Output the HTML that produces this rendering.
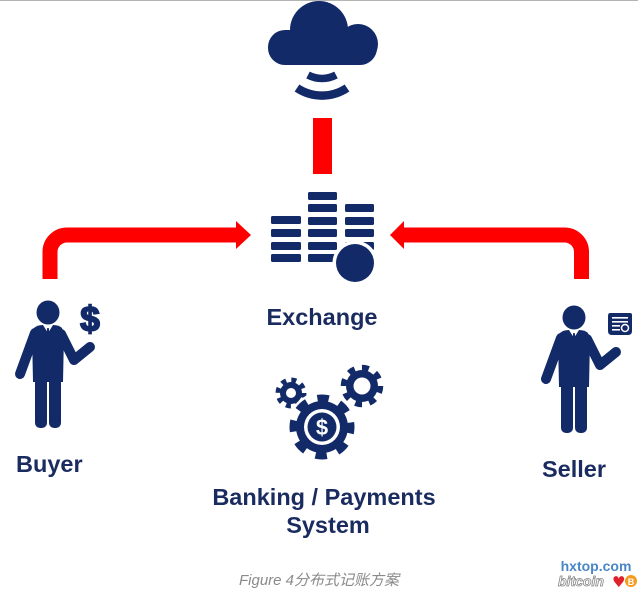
<!DOCTYPE html>
<html>
<head>
<meta charset="utf-8">
<style>
  html,body{margin:0;padding:0;background:#fff;}
  body{width:638px;height:590px;overflow:hidden;}
  svg{display:block;}
  .lbl{font-family:"Liberation Sans",Arial,sans-serif;font-weight:bold;fill:#1a2b5f;font-size:23.5px;}
</style>
</head>
<body>
<svg width="638" height="590" viewBox="0 0 638 590" xmlns="http://www.w3.org/2000/svg">
  <rect x="0" y="0" width="638" height="1" fill="#b4b4b4"/>

  <!-- Cloud -->
  <g fill="#132a68">
    <circle cx="319" cy="30" r="29"/>
    <rect x="268" y="30" width="109" height="35" rx="17"/>
    <circle cx="358" cy="44" r="20"/>
  </g>
  <!-- wifi arcs -->
  <g fill="none" stroke="#132a68" stroke-linecap="butt">
    <path d="M308,75 A30,30 0 0 0 336,75" stroke-width="7.5"/>
    <path d="M297,88 A45,45 0 0 0 347,88" stroke-width="8.5"/>
  </g>

  <!-- red vertical bar -->
  <rect x="313" y="118" width="19" height="56" fill="#ff0000"/>

  <!-- Left arrow -->
  <path d="M50,279 V252 A17,17 0 0 1 67,235 H238" fill="none" stroke="#ff0000" stroke-width="15"/>
  <polygon points="236,221 251,235 236,249" fill="#ff0000"/>
  <!-- Right arrow -->
  <path d="M581.5,279 V252 A17,17 0 0 0 564.5,235 H402" fill="none" stroke="#ff0000" stroke-width="15"/>
  <polygon points="404,221 390,235 404,249" fill="#ff0000"/>

  <!-- Exchange icon -->
  <g fill="#132a68">
    <rect x="271" y="216" width="30" height="8" rx="1.5"/>
    <rect x="271" y="229" width="30" height="8" rx="1.5"/>
    <rect x="271" y="242" width="30" height="8" rx="1.5"/>
    <rect x="271" y="254" width="30" height="8" rx="1.5"/>

    <rect x="308" y="192" width="29" height="8" rx="1.5"/>
    <rect x="308" y="204" width="29" height="8" rx="1.5"/>
    <rect x="308" y="217" width="29" height="8" rx="1.5"/>
    <rect x="308" y="229" width="29" height="8" rx="1.5"/>
    <rect x="308" y="242" width="29" height="8" rx="1.5"/>
    <rect x="308" y="254" width="29" height="8" rx="1.5"/>

    <rect x="345" y="204" width="29" height="8" rx="1.5"/>
    <rect x="345" y="217" width="29" height="8" rx="1.5"/>
    <rect x="345" y="229" width="29" height="8" rx="1.5"/>
    <rect x="345" y="242" width="29" height="8" rx="1.5"/>
  </g>
  <circle cx="355" cy="263" r="22.5" fill="#fff"/>
  <circle cx="355" cy="263" r="19" fill="#132a68"/>

  <text class="lbl" x="322" y="325" text-anchor="middle">Exchange</text>

  <!-- Buyer figure -->
  <g id="person" fill="#132a68">
    <ellipse cx="48" cy="312.5" rx="11.5" ry="12"/>
    <path d="M34,328 Q37,325 43,325 L53,325 Q59,325 62,328 L64,334 L63,382 L33,382 L32,334 Z"/>
    <path d="M35,333 L20,374" stroke="#132a68" stroke-width="10" stroke-linecap="round" fill="none"/>
    <path d="M61,334 L74,360 L90,347" stroke="#132a68" stroke-width="10" stroke-linecap="round" stroke-linejoin="round" fill="none"/>
    <rect x="35" y="372" width="12" height="56" rx="5"/>
    <rect x="49" y="372" width="12" height="56" rx="5"/>
    <polygon points="43,325 48,333 53,325" fill="#fff"/>
    <polygon points="47.2,328 48.8,328 50,338 48,341 46,338"/>
  </g>
  <text x="90" y="331" text-anchor="middle" font-family="Liberation Sans, Arial, sans-serif" font-weight="bold" font-size="35" fill="#132a68" stroke="#132a68" stroke-width="1.8">$</text>
  <text class="lbl" x="16" y="472">Buyer</text>

  <!-- Seller figure -->
  <use href="#person" transform="translate(526,5)"/>
  <!-- certificate -->
  <g>
    <path d="M610,313 L630,313 Q632,313 632,315 L632,331 Q632,335 628,335 L612,335 Q608,335 608,331 L608,316 Q608,313 610,313 Z" fill="#132a68"/>
    <rect x="612" y="317" width="16" height="1.6" fill="#fff"/>
    <rect x="612" y="321" width="16" height="1.6" fill="#fff"/>
    <rect x="612" y="325" width="8" height="1.6" fill="#fff"/>
    <rect x="612" y="329" width="8" height="1.6" fill="#fff"/>
    <circle cx="625" cy="328" r="3.5" fill="none" stroke="#fff" stroke-width="1.5"/>
  </g>
  <text class="lbl" x="542" y="477">Seller</text>

  <!-- Gears -->
  <g>
    <!-- left small gear -->
    <circle cx="291" cy="393" r="11" fill="#132a68"/>
    <circle cx="291" cy="393" r="13" fill="none" stroke="#132a68" stroke-width="5" stroke-dasharray="5 5.2"/>
    <circle cx="291" cy="393" r="5" fill="#fff"/>
    <!-- right gear -->
    <circle cx="362" cy="386" r="16" fill="#132a68"/>
    <circle cx="362" cy="386" r="18.5" fill="none" stroke="#132a68" stroke-width="5.5" stroke-dasharray="7 7.5"/>
    <circle cx="362" cy="386" r="8.5" fill="#fff"/>
    <!-- big gear halo -->
    <circle cx="322" cy="427" r="35" fill="#fff"/>
    <circle cx="322" cy="427" r="26" fill="#132a68"/>
    <circle cx="322" cy="427" r="29" fill="none" stroke="#132a68" stroke-width="7" stroke-dasharray="11.5 11.3" stroke-dashoffset="5"/>
    <circle cx="322" cy="427" r="18" fill="#fff"/>
    <circle cx="322" cy="427" r="14.5" fill="#132a68"/>
    <text x="322" y="435" text-anchor="middle" font-family="Liberation Sans, Arial, sans-serif" font-weight="bold" font-size="22" fill="#fff">$</text>
  </g>

  <text class="lbl" x="324" y="505" text-anchor="middle">Banking / Payments</text>
  <text class="lbl" x="328" y="533" text-anchor="middle">System</text>

  <text x="319" y="585" text-anchor="middle" font-family="Liberation Sans, 'Noto Sans CJK SC', sans-serif" font-style="italic" font-size="15" fill="#8a8a8a">Figure 4分布式记账方案</text>

  <!-- watermark -->
  <text x="596" y="571" text-anchor="middle" font-family="Liberation Sans, Arial, sans-serif" font-weight="bold" font-size="14" fill="#4a86c5">hxtop.com</text>
  <text x="558" y="586" font-family="Liberation Sans, Arial, sans-serif" font-style="italic" font-weight="bold" font-size="14" fill="#fff" stroke="#888" stroke-width="0.8">bitcoin</text>
  <text x="612" y="587" font-family="DejaVu Sans, sans-serif" font-size="15" fill="#e0202a">♥</text>
  <circle cx="631" cy="581" r="6" fill="#f39c1f"/>
  <text x="631" y="585" text-anchor="middle" font-family="Liberation Sans, Arial, sans-serif" font-weight="bold" font-size="9" fill="#fff">B</text>
</svg>
</body>
</html>
